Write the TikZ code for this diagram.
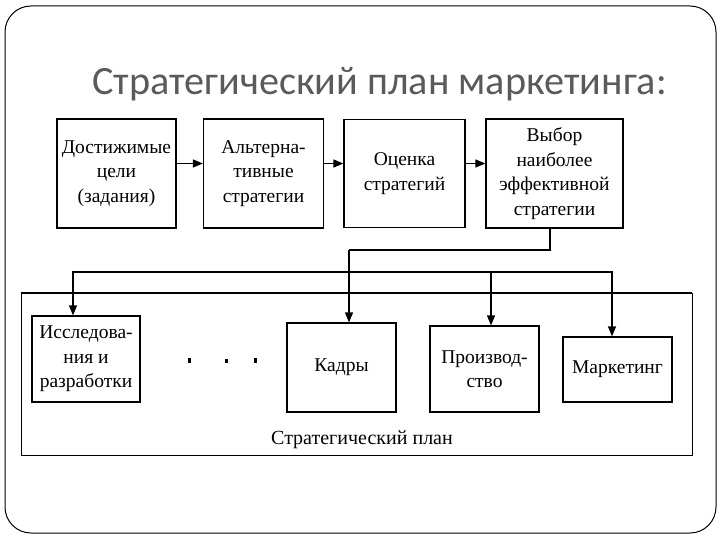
\documentclass[tikz,border=0pt]{standalone}
\usepackage{fontspec}
\setmainfont{Liberation Serif}
\newfontfamily\titlefont{Carlito}
\usetikzlibrary{arrows.meta}
\definecolor{titlegray}{HTML}{5A5A5A}
\tikzset{
  box/.style={draw, line width=1.2pt, align=center, inner sep=0pt, font=\fontsize{19.5}{24.5}\selectfont},
  arr/.style={line width=1.2pt, -{Triangle[length=10pt,width=8pt]}},
  conn/.style={line width=1.2pt},
}
\begin{document}
\begin{tikzpicture}[x=1pt,y=-1pt]
\useasboundingbox (0,0) rectangle (720,540);
\draw[line width=1pt, rounded corners=26pt] (5,6) rectangle (716,533);
\node[font=\titlefont\fontsize{40.2}{42}\selectfont, text=titlegray, anchor=base west, inner sep=0pt] (title) at (92,95) {Стратегический план маркетинга:};

\node[box, minimum width=119pt, minimum height=109pt] (b1) at (116.5,173.5) {Достижимые\\цели\\(задания)};
\node[box, minimum width=120pt, minimum height=109pt] (b2) at (263.5,173.5) {Альтерна-\\тивные\\стратегии};
\node[box, minimum width=121pt, minimum height=108pt] (b3) at (404.5,173.5) {Оценка\\стратегий};
\node[box, minimum width=137pt, minimum height=109pt] (b4) at (554.5,173.5) {Выбор\\наиболее\\эффективной\\стратегии};

\draw[arr] ([yshift=10pt]b1.east) -- ([yshift=10pt]b2.west);
\draw[arr] ([yshift=10pt]b2.east) -- ([yshift=10pt]b3.west);
\draw[arr] ([yshift=10pt]b3.east) -- ([yshift=10pt]b4.west);

\draw[line width=1pt] (21,293) rectangle (692,455);
\draw[line width=2.2pt] (21,293) -- (692,293);
\node[font=\fontsize{20}{22}\selectfont] (plan) at (362,440) {Стратегический план};

\node[box, minimum width=108pt, minimum height=86pt] (res) at (86,359) {Исследова-\\ния и\\разработки};
\node[box, minimum width=109pt, minimum height=89pt] (kad) at (341.5,367.5) {Кадры};
\node[box, minimum width=109pt, minimum height=86pt] (prod) at (484.5,369) {Производ-\\ство};
\node[box, minimum width=109pt, minimum height=65pt] (mark) at (617.5,369.5) {Маркетинг};

\fill (187.5,357.5) rectangle (190.5,362.5);
\fill (224.5,358.5) rectangle (227.5,362.5);
\fill (253.5,357.5) rectangle (256.5,362.5);

\coordinate (j1) at (349,250);
\coordinate (j2) at (349,272);
\draw[conn] ([xshift=-4.5pt]b4.south) |- (j1);
\draw[arr] (j1) -- (j1 |- kad.north);
\draw[arr] (j2) -| ([xshift=-13pt]res.north);
\draw[arr] (j2) -| ([xshift=6.5pt]prod.north);
\draw[arr] (j2) -| ([xshift=-5.5pt]mark.north);
\end{tikzpicture}
\end{document}
